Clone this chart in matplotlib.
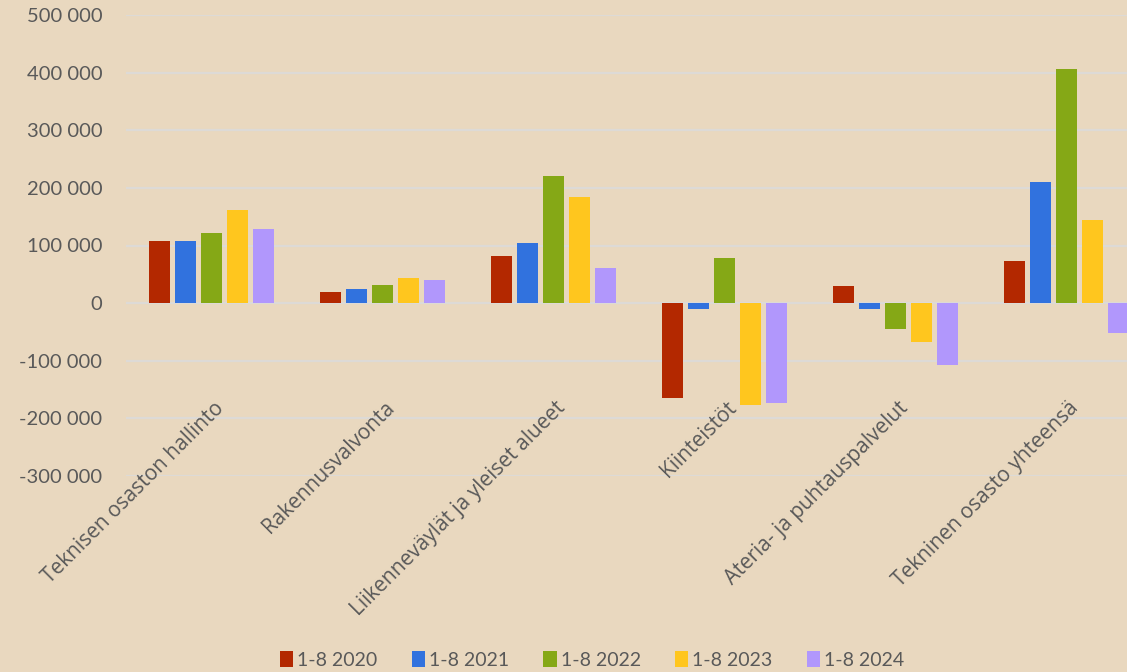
import matplotlib.pyplot as plt
import matplotlib.ticker as mticker
import numpy as np

categories = [
    "Teknisen osaston hallinto",
    "Rakennusvalvonta",
    "Liikenneväylät ja yleiset alueet",
    "Kiinteistöt",
    "Ateria- ja puhtauspalvelut",
    "Tekninen osasto yhteensä",
]
series_names = ["1-8 2020", "1-8 2021", "1-8 2022", "1-8 2023", "1-8 2024"]

v2020 = [108000, 19000, 81000, -165000, 30000, 73000]
v2021 = [107000, 24000, 104000, -11000, -10000, 211000]
v2022 = [121000, 31000, 220000, 78000, -45000, 406000]
v2023 = [161000, 43000, 185000, -176000, -67000, 144000]
v2024 = [129000, 40000, 61000, -174000, -108000, -52000]

colors = ["#b32800", "#3172de", "#85a816", "#ffc61e", "#b197fc"]
bg = "#e9d8bf"
text_color = "#595959"

values = [v2020, v2021, v2022, v2023, v2024]

fig = plt.figure(figsize=(11.27, 6.72), dpi=100)
fig.patch.set_facecolor(bg)

# plot area runs a little past the right edge, as in the original crop
ax = fig.add_axes([126 / 1127, 196 / 672, 1026 / 1127, 461 / 672])
ax.set_facecolor(bg)

x = np.arange(len(categories))
width = 0.123
step = 0.152

for k, vals in enumerate(values):
    ax.bar(x + (k - 2) * step, vals, width, color=colors[k],
           label=series_names[k], zorder=3)

ax.set_xlim(-0.5, len(categories) - 0.5)
ax.set_ylim(-300000, 500000)
ax.yaxis.set_major_locator(mticker.MultipleLocator(100000))
ax.yaxis.set_major_formatter(mticker.FuncFormatter(
    lambda v, p: "{:,}".format(int(v)).replace(",", " ")))
ax.grid(axis="y", color="#dddad6", linewidth=1.6, zorder=0)
ax.tick_params(axis="y", length=0, pad=17, labelsize=14.5, labelcolor=text_color)
for lab in ax.get_yticklabels():
    lab.set_family("Lato")
ax.set_xticks([])
for s in ax.spines.values():
    s.set_visible(False)

# category labels, rotated, end anchored under each group
for i, name in enumerate(categories):
    ax.text(i + 0.01, -164000, name, rotation=45, rotation_mode="anchor",
            ha="right", va="top", fontsize=15, color=text_color,
            family="Open Sans", clip_on=False)

leg = fig.legend(loc="center", bbox_to_anchor=(592 / 1127, 12 / 672), ncol=5,
                 frameon=False, fontsize=14, handlelength=0.7,
                 handleheight=0.9, handletextpad=0.2, columnspacing=1.75)
for t in leg.get_texts():
    t.set_color(text_color)
    t.set_family("Lato")

fig.savefig("out.png", dpi=100, facecolor=bg)
